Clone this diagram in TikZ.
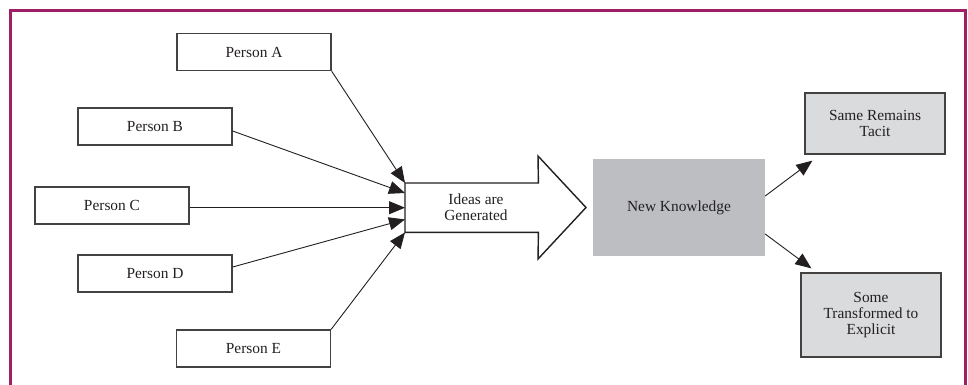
\documentclass[tikz,border=0pt]{standalone}
\usepackage{fontspec}
\setmainfont{Liberation Serif}
\usetikzlibrary{arrows.meta,calc}
\definecolor{frame}{HTML}{9E1F63}
\definecolor{ink}{HTML}{231F20}
\definecolor{nkgray}{HTML}{BDBEC1}
\definecolor{lgray}{HTML}{DADBDD}
\tikzset{
  person/.style={draw=ink!85, line width=1.3pt, fill=white, minimum width=154pt, minimum height=37pt, inner sep=0pt, text=ink, font=\fontsize{15.4}{16}\selectfont},
  outbox/.style={draw=ink!85, line width=1.3pt, fill=lgray, minimum width=140pt, inner sep=0pt, align=center, text=ink, font=\fontsize{15.4}{16}\selectfont},
  conn/.style={draw=ink, line width=0.9pt, -{Triangle[length=16pt,width=13pt]}},
  bigarrow/.style={draw=ink, line width=1.4pt, fill=white, line join=miter},
}
\begin{document}
\begin{tikzpicture}[x=1pt,y=-1pt]
\useasboundingbox (0,0) rectangle (968,384);
\draw[frame, line width=3pt] (10,400) -- (10,10) -- (965,10) -- (965,400);
% persons
\node[person] (a) at (254,52) {Person A};
\node[person] (b) at (155,126.5) {Person B};
\node[person] (c) at (112,205.5) {Person C};
\node[person] (d) at (155,273.5) {Person D};
\node[person] (e) at (253.5,348.5) {Person E};
% big arrow
\node[minimum width=133pt, minimum height=49pt, inner sep=0pt, anchor=north west] (ideas) at (405,183) {};
\draw[bigarrow] (ideas.north west) -- (ideas.north east) -- (538,156) -- (586,207.5) -- (538,259) -- (ideas.south east) -- (ideas.south west) -- cycle;
\node[align=center, text=ink, font=\fontsize{15.4}{16}\selectfont] (ideastext) at (476,207.5) {Ideas are\\Generated};
% new knowledge
\node[fill=nkgray, minimum width=172pt, minimum height=97pt, inner sep=0pt, text=ink, font=\fontsize{15.4}{16}\selectfont] (nk) at (679,207.5) {New Knowledge};
\node[outbox, minimum height=61pt] (srt) at (875,123.5) {Same Remains\\Tacit};
\node[outbox, minimum height=84pt] (ste) at (871,315) {Some\\Transformed to\\Explicit};
% connectors in
\draw[conn] (a.south east) -- (ideas.north west);
\draw[conn] ([yshift=-4.5pt]b.east) -- ([yshift=-10pt]ideas.north west);
\draw[conn] (c.east |- ideas.west) -- (ideas.west);
\draw[conn] ([yshift=6.5pt]d.east) -- ([yshift=13pt]ideas.south west);
\draw[conn] (e.north east) -- (ideas.south west);
% connectors out
\draw[conn] ([yshift=11.5pt]nk.east) -- ([xshift=8pt,yshift=-6pt]srt.south west);
\draw[conn] ([yshift=-26.5pt]nk.east) -- ([xshift=11pt,yshift=4pt]ste.north west);
\end{tikzpicture}
\end{document}
